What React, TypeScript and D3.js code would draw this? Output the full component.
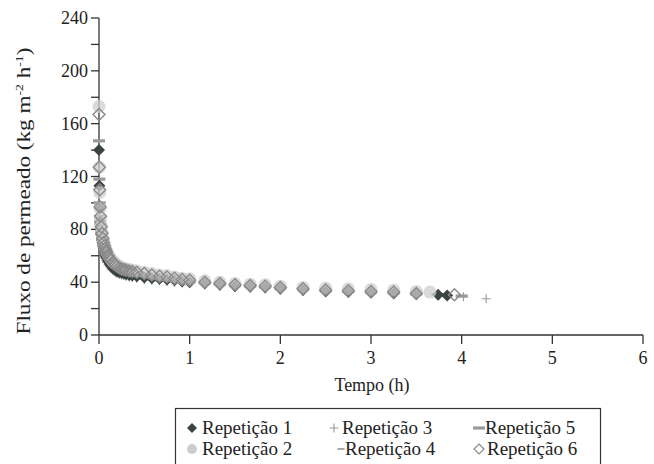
import React from "react";
import * as d3 from "d3";

// Shared sampling times (h)
const timeHead = [0, 0.004, 0.008, 0.012, 0.017, 0.025, 0.033, 0.042, 0.05, 0.058, 0.067, 0.075, 0.083, 0.1, 0.117, 0.133, 0.15, 0.167, 0.183, 0.2, 0.225, 0.25, 0.275, 0.3, 0.333, 0.367];
const timeTail = [0.417, 0.5, 0.583, 0.667, 0.75, 0.833, 0.917, 1.0, 1.167, 1.333, 1.5, 1.667, 1.833, 2.0, 2.25, 2.5, 2.75, 3.0, 3.25, 3.5];

// Repetição 1
const rep1Head = [140, 113, 96, 86, 81, 76, 72, 69, 66, 64, 62, 60, 58.5, 56, 54, 52.5, 51, 50, 49, 48, 47.5, 47, 46.5, 46, 45.5, 45];
const rep1Tail = [44.5, 43.5, 43, 42.5, 42, 41.5, 40.5, 40, 39, 38, 37, 36.5, 36, 35, 34, 33, 32.5, 32, 31.5, 31];
const rep1EndT = [3.74, 3.84];
const rep1EndV = [30.5, 30];

// Repetição 2
const rep2Head = [173, 127, 108, 96, 88, 82, 78, 74, 71, 68.5, 66.5, 65, 63.5, 61, 59, 57.5, 56, 55, 54, 53, 52, 51, 50.5, 50, 49.5, 49];
const rep2Tail = [48.5, 47.5, 46.5, 45.5, 45, 44, 43, 42.5, 41, 40, 39, 38.5, 38, 37, 36, 35.5, 35, 34.5, 34, 33];
const rep2EndT = [3.65];
const rep2EndV = [32.5];

// Repetição 3
const rep3Head = [85, 82, 79, 76, 73, 70, 67, 64, 61.5, 59.5, 58, 56.5, 55, 53, 51.5, 50, 49, 48, 47.5, 47, 46, 45.5, 45, 44.5, 44, 43.5];
const rep3Tail = [43, 42, 41.5, 41, 40.5, 40, 39.5, 39, 38, 37, 36, 35.5, 35, 34, 33, 32.5, 32, 31.5, 31, 30.5];
const rep3EndT = [3.75, 4.02, 4.27];
const rep3EndV = [30, 29, 27.5];

// Repetição 4
const rep4Head = [88, 84, 80, 77, 74, 71, 68, 65.5, 63, 61, 59.5, 58, 56.5, 54.5, 53, 51.5, 50.5, 49.5, 48.5, 48, 47, 46.5, 46, 45.5, 45, 44.5];
const rep4Tail = [44, 43.5, 43, 42.5, 42, 41.5, 41, 40.5, 39.5, 38.5, 37.5, 37, 36.5, 35.5, 34.5, 34, 33.5, 33, 32.5, 32];
const rep4EndT = [3.7];
const rep4EndV = [31];

// Repetição 5
const rep5Head = [147, 118, 100, 90, 84, 78, 74, 71, 68, 66, 64, 62.5, 61, 59, 57, 55.5, 54, 53, 52, 51, 50, 49.5, 49, 48.5, 48, 47.5];
const rep5Tail = [47, 46, 45, 44, 43.5, 42.5, 41.5, 41, 39.5, 38.5, 37.5, 37, 36.5, 35.5, 34.5, 33.5, 33, 32.5, 32, 31];
const rep5EndT = [3.75, 4.0];
const rep5EndV = [30.5, 29.5];

// Repetição 6
const rep6Head = [167, 127, 110, 97, 90, 82, 77, 73, 70, 67.5, 65.5, 64, 62.5, 60, 58, 56.5, 55, 54, 53, 52, 51, 50, 49.5, 49, 48.5, 48];
const rep6Tail = [47.5, 46.5, 45.5, 44.5, 44, 43, 42, 41.5, 40, 39, 38, 37.5, 37, 36, 35, 34, 33.5, 33, 32.5, 31.5];
const rep6EndT = [3.92];
const rep6EndV = [30.5];

const xTicks = [0, 1, 2, 3, 4, 5, 6];
const yTicks = [0, 20, 40, 60, 80, 100, 120, 140, 160, 180, 200, 220, 240];
const yLabels = [0, 40, 80, 120, 160, 200, 240];

const legendNames = ["Repetição 1", "Repetição 2", "Repetição 3", "Repetição 4", "Repetição 5", "Repetição 6"];

type Pt = { t: number; v: number };
function build(h: number[], tl: number[], et: number[], ev: number[]): Pt[] {
  const ts = [...timeHead, ...timeTail, ...et];
  const vs = [...h, ...tl, ...ev];
  return ts.map((t, i) => ({ t, v: vs[i] }));
}

const FONT = "'Liberation Serif', 'Times New Roman', serif";

function Marker({ kind, x, y }: { kind: number; x: number; y: number }) {
  const d = 6;
  switch (kind) {
    case 1:
      return <path d={`M${x},${y - d}L${x + d},${y}L${x},${y + d}L${x - d},${y}Z`} fill="#3c4440" />;
    case 2:
      return <circle cx={x} cy={y} r={6.5} fill="#cdcdcd" fillOpacity={0.75} />;
    case 3:
      return <path d={`M${x - 4.5},${y}H${x + 4.5}M${x},${y - 4.5}V${y + 4.5}`} stroke="#999" strokeWidth={1.1} fill="none" />;
    case 4:
      return <rect x={x - 3.5} y={y - 1} width={7} height={2} fill="#aaa" />;
    case 5:
      return <rect x={x - 6} y={y - 1.6} width={12} height={3.2} fill="#9a9a9a" />;
    default:
      return <path d={`M${x},${y - d}L${x + d},${y}L${x},${y + d}L${x - d},${y}Z`} fill="none" stroke="#8a8a8a" strokeWidth={1.4} />;
  }
}

export default function App() {
  const x = d3.scaleLinear().domain([0, 6]).range([99, 643]);
  const y = d3.scaleLinear().domain([0, 240]).range([335, 18]);

  const series: { kind: number; pts: Pt[] }[] = [
    { kind: 3, pts: build(rep3Head, rep3Tail, rep3EndT, rep3EndV) },
    { kind: 4, pts: build(rep4Head, rep4Tail, rep4EndT, rep4EndV) },
    { kind: 5, pts: build(rep5Head, rep5Tail, rep5EndT, rep5EndV) },
    { kind: 1, pts: build(rep1Head, rep1Tail, rep1EndT, rep1EndV) },
    { kind: 2, pts: build(rep2Head, rep2Tail, rep2EndT, rep2EndV) },
    { kind: 6, pts: build(rep6Head, rep6Tail, rep6EndT, rep6EndV) },
  ];

  const legendPos = [
    { kind: 1, mx: 192, tx: 202, y: 434 },
    { kind: 2, mx: 192, tx: 202, y: 455 },
    { kind: 3, mx: 334, tx: 342, y: 434 },
    { kind: 4, mx: 341, tx: 345, y: 455 },
    { kind: 5, mx: 479, tx: 485, y: 434 },
    { kind: 6, mx: 479, tx: 487, y: 455 },
  ];

  return (
    <svg width={654} height={464} style={{ position: "absolute", left: 0, top: 0, background: "#fff", fontFamily: FONT }}>
      <rect width={654} height={464} fill="#fff" />
      {/* axes */}
      <line x1={99} x2={99} y1={y(240)} y2={y(0)} stroke="#333" strokeWidth={1.3} />
      <line x1={99} x2={x(6)} y1={335} y2={335} stroke="#333" strokeWidth={1.3} />
      {yTicks.map((t) => (
        <line key={t} x1={91} x2={99} y1={y(t)} y2={y(t)} stroke="#333" strokeWidth={1.3} />
      ))}
      {yLabels.map((t) => (
        <text key={t} x={88} y={y(t) + 6} fontSize={18} textAnchor="end" fill="#222">{t}</text>
      ))}
      {xTicks.map((t) => (
        <g key={t}>
          <line x1={x(t)} x2={x(t)} y1={335} y2={344} stroke="#333" strokeWidth={1.3} />
          <text x={x(t)} y={364} fontSize={18} textAnchor="middle" fill="#222">{t}</text>
        </g>
      ))}
      <text x={372} y={391} fontSize={18} textAnchor="middle" fill="#222">Tempo (h)</text>
      <text transform="translate(30,191) rotate(-90) scale(1.25,1)" fontSize={18.5} textAnchor="middle" fill="#222">
        Fluxo de permeado (kg m<tspan dy={-7} fontSize={11}>-2</tspan><tspan dy={7}> h</tspan><tspan dy={-7} fontSize={11}>-1</tspan><tspan dy={7}>)</tspan>
      </text>
      {/* data */}
      {series.map((s) => (
        <g key={s.kind}>
          {s.pts.map((p, i) => (
            <Marker key={i} kind={s.kind} x={x(p.t)} y={y(p.v)} />
          ))}
        </g>
      ))}
      {/* legend */}
      <rect x={175.5} y={408.5} width={425} height={70} fill="#fff" stroke="#333" strokeWidth={1.2} />
      {legendPos.map((l) => (
        <g key={l.kind}>
          {l.kind === 1 ? (
            <path d={`M${l.mx},${l.y - 11}L${l.mx + 5},${l.y - 6}L${l.mx},${l.y - 1}L${l.mx - 5},${l.y - 6}Z`} fill="#3c4440" />
          ) : l.kind === 2 ? (
            <circle cx={l.mx} cy={l.y - 6} r={5} fill="#cdcdcd" />
          ) : l.kind === 6 ? (
            <path d={`M${l.mx},${l.y - 11}L${l.mx + 5},${l.y - 6}L${l.mx},${l.y - 1}L${l.mx - 5},${l.y - 6}Z`} fill="none" stroke="#8a8a8a" strokeWidth={1.2} />
          ) : (
            <Marker kind={l.kind} x={l.mx} y={l.y - 6} />
          )}
          <text x={l.tx} y={l.y} fontSize={19} fill="#222">{legendNames[l.kind - 1]}</text>
        </g>
      ))}
    </svg>
  );
}
